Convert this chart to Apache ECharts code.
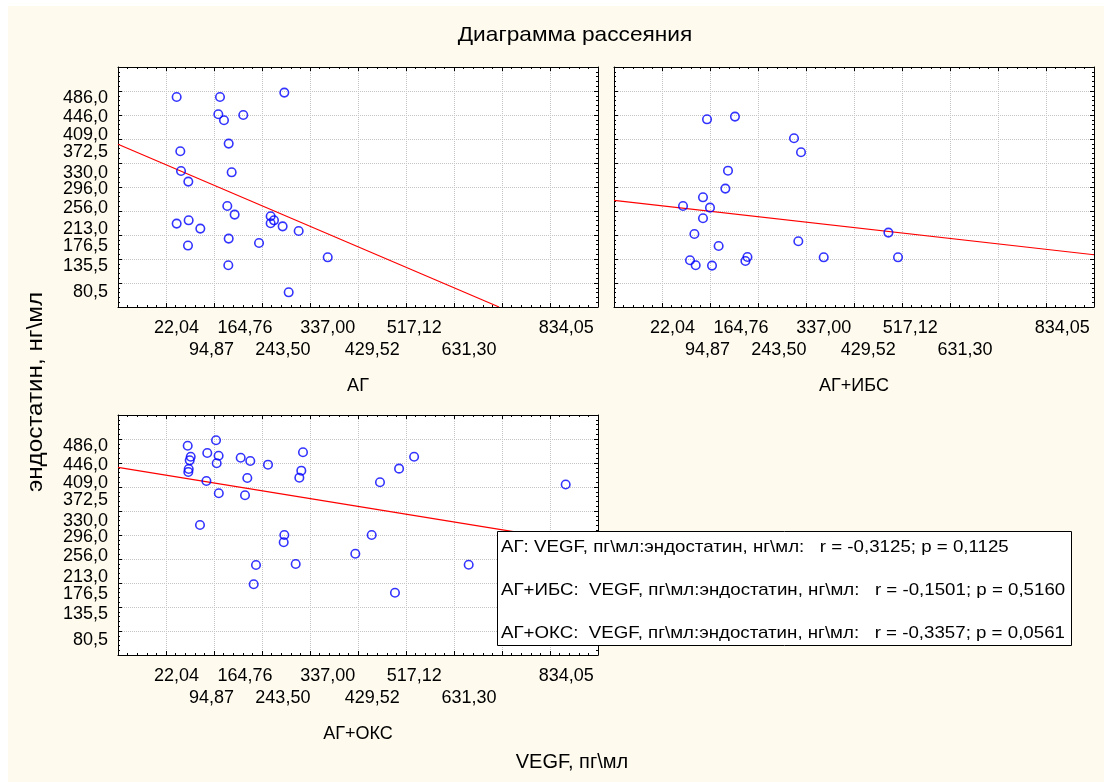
<!DOCTYPE html>
<html>
<head>
<meta charset="utf-8">
<script src="https://cdn.jsdelivr.net/npm/echarts@6/dist/echarts.min.js"></script>
<style>
  html, body { margin: 0; padding: 0; background: #ffffff; }
  #chart { width: 1104px; height: 782px; }
</style>
</head>
<body>
<div id="chart"></div>
<script>
// ---- Data ----
const chartTitle = 'Диаграмма рассеяния';
const xAxisTitle = 'VEGF, пг\\мл';
const yAxisTitle = 'эндостатин, нг\\мл';
const panelNames = ['АГ', 'АГ+ИБС', 'АГ+ОКС'];

const xTickValues = [22.04, 94.87, 164.76, 243.50, 337.00, 429.52, 517.12, 631.30, 834.05];
const xTickLabels = ['22,04', '94,87', '164,76', '243,50', '337,00', '429,52', '517,12', '631,30', '834,05'];
const yTickValues = [80.5, 135.5, 176.5, 213.0, 256.0, 296.0, 330.0, 372.5, 409.0, 446.0, 486.0];
const yTickLabels = ['80,5', '135,5', '176,5', '213,0', '256,0', '296,0', '330,0', '372,5', '409,0', '446,0', '486,0'];

// АГ
const agX = [22.2, 112.5, 246.5, 109, 120.8, 161, 130.6, 29.8, 31.3, 136.8, 46.5, 127.7, 143, 22.2, 47.2, 71.5, 218, 218, 225, 243, 276.4, 130.6, 45.8, 193.8, 129.8, 336.9, 255.6];
const agY = [487.5, 487.5, 496.7, 451.5, 439, 450, 390.4, 374.4, 333.3, 330.6, 311.2, 260.4, 242.5, 223.8, 230.6, 213.3, 239, 224.4, 230.6, 218, 208.3, 192.5, 178, 183.3, 136.9, 153.5, 80.6];
// АГ+ИБС
const ibsX = [93.8, 152, 275, 289.6, 137.5, 132, 85.4, 43.8, 100, 85.4, 67.5, 118, 284, 471.7, 58.3, 70.2, 104.2, 173.8, 178, 336.9, 491.7];
const ibsY = [441, 446.7, 401.5, 372.3, 334, 296.7, 278.5, 260.4, 257, 234.8, 202, 177, 186.9, 205, 147.3, 136.9, 136.2, 145.8, 154.2, 153.5, 153.5];
// АГ+ОКС
const oksX = [45.2, 104.2, 51.5, 49.4, 86, 109.6, 105.6, 47.3, 46.5, 84.2, 110, 155.6, 175.6, 169.4, 164.6, 212.5, 285.4, 281.9, 277.8, 70.8, 246.5, 245.2, 187.5, 270.2, 182.7, 394.4, 428.5, 445.8, 485.6, 516.9, 832.7, 477, 630.6];
const oksY = [486, 497.3, 463, 455.6, 470.8, 465.2, 449.4, 437.5, 431.3, 412.5, 386.9, 461, 454.2, 418.8, 382.7, 446.5, 472.3, 434, 419.4, 320.8, 300, 284.8, 237.5, 239.6, 197.3, 261, 300, 409.8, 438.2, 463, 405.2, 179.8, 238.1];

// Regression line end points (x, y)
const fitAgX = [-100, 693.75];
const fitAgY = [389, 50];
const fitIbsX = [-100, 900];
const fitIbsY = [272.3, 158.8];
const fitOksX = [-100, 900];
const fitOksY = [441, 278.3];

const legendLines = [
  'АГ: VEGF, пг\\мл:эндостатин, нг\\мл:   r = -0,3125; p = 0,1125',
  'АГ+ИБС:  VEGF, пг\\мл:эндостатин, нг\\мл:   r = -0,1501; p = 0,5160',
  'АГ+ОКС:  VEGF, пг\\мл:эндостатин, нг\\мл:   r = -0,3357; p = 0,0561'
];

// ---- Build chart ----
const FONT = "'Liberation Sans', Arial, sans-serif";
const zip = (xs, ys) => xs.map((x, i) => [x, ys[i]]);
const findIdx = (arr, v) => arr.findIndex(a => Math.abs(a - v) < 1e-6);
const evenX = xTickValues.filter((v, k) => k % 2 === 0);   // first label row
const oddX = xTickValues.filter((v, k) => k % 2 === 1);    // second label row
const xFmt = v => xTickLabels[findIdx(xTickValues, v)];

const PLOT_H = 240;
const grids = [
  { left: 118, top: 67, width: 480, height: PLOT_H },
  { left: 614, top: 67, width: 480, height: PLOT_H },
  { left: 118, top: 415, width: 480, height: PLOT_H }
].map(g => Object.assign({ show: true, backgroundColor: '#ffffff', borderWidth: 0, containLabel: false, outerBoundsMode: 'none' }, g));

const tickCommon = {
  axisLine: { show: true, onZero: false, lineStyle: { color: '#000', width: 1 } },
  axisTick: { show: true, inside: true, length: 4, lineStyle: { color: '#000', width: 1 } },
  minorTick: { show: true, splitNumber: 5, length: 2, lineStyle: { color: '#000', width: 1 } }
};
const gridLine = { show: true, lineStyle: { color: '#c4c4c4', type: [1, 1], width: 1 } };
const labelFont = { fontSize: 18, fontFamily: FONT, color: '#000' };

const xAxes = [];
const yAxes = [];
for (let i = 0; i < 3; i++) {
  // bottom axis: first row of labels + panel name
  xAxes.push(Object.assign({
    type: 'value', gridIndex: i, position: 'bottom', min: -100, max: 900, interval: 100,
    splitLine: gridLine,
    axisLabel: Object.assign({
      show: true, customValues: evenX, margin: 10, lineHeight: 22, verticalAlign: 'top',
      showMinLabel: true, showMaxLabel: true, formatter: xFmt
    }, labelFont),
    name: panelNames[i], nameLocation: 'middle', nameGap: 70, nameMoveOverlap: false,
    nameTextStyle: { fontSize: 18, fontFamily: FONT, color: '#000' }
  }, tickCommon));
  // top axis: mirror ticks; its inside labels are pushed below the plot as the second label row
  xAxes.push(Object.assign({
    type: 'value', gridIndex: i, position: 'top', min: -100, max: 900, interval: 100,
    splitLine: { show: false },
    axisLabel: Object.assign({
      show: true, inside: true, customValues: oddX, margin: PLOT_H + 32, lineHeight: 22, verticalAlign: 'top',
      showMinLabel: true, showMaxLabel: true, formatter: xFmt
    }, labelFont)
  }, tickCommon));
  yAxes.push(Object.assign({
    type: 'value', gridIndex: i, position: 'left', min: 50, max: 550, interval: 50,
    splitLine: gridLine,
    axisLabel: Object.assign({
      show: i !== 1, customValues: yTickValues, margin: 10,
      showMinLabel: true, showMaxLabel: true,
      formatter: v => yTickLabels[findIdx(yTickValues, v)]
    }, labelFont)
  }, tickCommon));
  yAxes.push(Object.assign({
    type: 'value', gridIndex: i, position: 'right', min: 50, max: 550, interval: 50,
    splitLine: { show: false }, axisLabel: { show: false }
  }, tickCommon));
}

const scatterStyle = { color: 'rgba(0,0,0,0)', borderColor: '#0000ff', borderWidth: 1.6 };
const panelsData = [zip(agX, agY), zip(ibsX, ibsY), zip(oksX, oksY)];
const fits = [zip(fitAgX, fitAgY), zip(fitIbsX, fitIbsY), zip(fitOksX, fitOksY)];
const series = [];
for (let i = 0; i < 3; i++) {
  series.push({
    type: 'line', xAxisIndex: 2 * i, yAxisIndex: 2 * i, data: fits[i], showSymbol: false, symbol: 'none',
    lineStyle: { color: '#ff0000', width: 1.2 }, clip: true, silent: true, z: 2
  });
  series.push({
    type: 'scatter', xAxisIndex: 2 * i, yAxisIndex: 2 * i, data: panelsData[i],
    symbol: 'circle', symbolSize: 8.5, itemStyle: scatterStyle, z: 3
  });
}

const legendBox = { left: 497, top: 531, width: 574, height: 114 };
const graphic = [
  { type: 'rect', left: 0, top: 0, shape: { width: 8, height: 782 }, style: { fill: '#ffffff' }, z: 100 },
  { type: 'rect', left: 0, top: 0, shape: { width: 1104, height: 6 }, style: { fill: '#ffffff' }, z: 100 },
  { type: 'text', x: 575, y: 35, scaleX: 1.08, style: { text: chartTitle, fontSize: 21, fontFamily: FONT, fill: '#000', align: 'center', verticalAlign: 'middle' }, z: 100 },
  { type: 'text', x: 572, y: 762, style: { text: xAxisTitle, fontSize: 20, fontFamily: FONT, fill: '#000', align: 'center', verticalAlign: 'middle' }, z: 100 },
  { type: 'text', x: 36, y: 392, rotation: Math.PI / 2, scaleX: 1.1, style: { text: yAxisTitle, fontSize: 22, fontFamily: FONT, fill: '#000', align: 'center', verticalAlign: 'middle' }, z: 100 },
  { type: 'rect', shape: { x: legendBox.left + 0.5, y: legendBox.top + 0.5, width: legendBox.width, height: legendBox.height },
    style: { fill: '#ffffff', stroke: '#000', lineWidth: 1 }, z: 200 }
];
legendLines.forEach((t, k) => {
  graphic.push({ type: 'text', x: legendBox.left + 4, y: legendBox.top + 16 + k * 43, scaleX: 1.1,
    style: { text: t, fontSize: 17, fontFamily: FONT, fill: '#000', align: 'left', verticalAlign: 'middle' }, z: 201 });
});

const chart = echarts.init(document.getElementById('chart'), null, { renderer: 'canvas' });
chart.setOption({
  animation: false,
  backgroundColor: '#fefaee',
  textStyle: { fontFamily: FONT },
  grid: grids,
  xAxis: xAxes,
  yAxis: yAxes,
  series: series,
  graphic: graphic
});
</script>
</body>
</html>
